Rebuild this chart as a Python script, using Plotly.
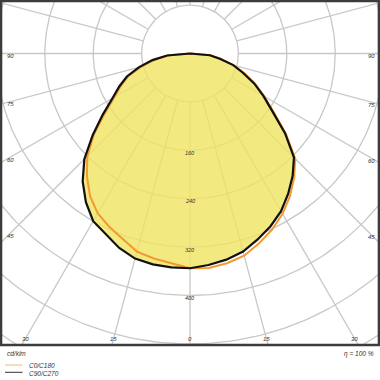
import numpy as np
import plotly.graph_objects as go

# ---------------- data (cd/klm) ----------------
gamma = [0, 5, 10, 15, 20, 25, 30, 35, 40, 45, 50, 55, 60, 65, 70, 75, 80, 85, 90]
c0    = [355, 356, 352, 346, 334, 321, 306, 288, 268, 246, 207, 169, 142, 119, 96, 75, 52, 34, 0]
c180  = [355, 348, 344, 339, 326, 316, 305, 288, 265, 240, 207, 172, 144, 126, 108, 83, 60, 35, 0]
c90   = [355, 351, 346, 339, 327, 315, 301, 283, 264, 243, 205, 166, 140, 117, 93, 74, 50, 33, 0]
c270  = [355, 355, 354, 351, 342, 330, 320, 300, 276, 247, 210, 176, 148, 129, 111, 87, 63, 38, 0]

ring_values = [80, 160, 240, 320, 400, 480, 560, 640]
ring_labels = [160, 240, 320, 400]
spoke_angles = list(range(0, 360, 15))
side_angle_labels = [90, 75, 60, 45]
bottom_angle_labels = [0, 15, 30]
legend_names = ["C0/C180", "C90/C270"]
unit_text = "cd/klm"
eta_text = "η = 100 %"

# ---------------- geometry ----------------
W, H = 380, 380
ML, MR, MT, MB = 1, 1, 1, 35
CX, CY = 190.0, 53.5          # pixel position of the luminaire centre
S = 0.605                     # pixels per cd/klm
PW, PH = W - ML - MR, H - MT - MB

x_rng = [(ML - CX) / S, (W - MR - CX) / S]
y_rng = [-(MT + PH - CY) / S, (CY - MT) / S]

def px_to_x(px):
    return (px - CX) / S

def py_to_y(py):
    return -(py - CY) / S

def paper_x(px):
    return (px - ML) / PW

def paper_y(py):
    return (MT + PH - py) / PH

g = np.radians(np.array(gamma, dtype=float))

def curve(left, right):
    l = np.array(left, float)
    r = np.array(right, float)
    xl = -l * np.sin(g)
    yl = -l * np.cos(g)
    xr = r * np.sin(g)
    yr = -r * np.cos(g)
    xs = np.concatenate([xl[::-1], xr[1:]])
    ys = np.concatenate([yl[::-1], yr[1:]])
    return xs, ys

fig = go.Figure()

GRID = "#c8c8c8"
# rings
t = np.linspace(0, 2 * np.pi, 361)
for rv in ring_values:
    fig.add_trace(go.Scatter(x=rv * np.sin(t), y=rv * np.cos(t), mode="lines",
                             line=dict(color=GRID, width=1.3), hoverinfo="skip",
                             showlegend=False))
# spokes
for a in spoke_angles:
    ar = np.radians(a)
    rr = np.array([ring_values[0], 800.0])
    fig.add_trace(go.Scatter(x=rr * np.sin(ar), y=-rr * np.cos(ar), mode="lines",
                             line=dict(color=GRID, width=1.3), hoverinfo="skip",
                             showlegend=False))

# yellow fill (C90/C270)
fx, fy = curve(c270, c90)
fig.add_trace(go.Scatter(x=fx, y=fy, mode="lines", fill="toself",
                         fillcolor="rgba(239,229,96,0.8)",
                         line=dict(color="rgba(0,0,0,0)", width=0),
                         hoverinfo="skip", showlegend=False))

ox, oy = curve(c180, c0)
fig.add_trace(go.Scatter(x=ox, y=oy, mode="lines", name=legend_names[0],
                         line=dict(color="#f39a2e", width=2), showlegend=False))
bx, by = curve(c270, c90)
fig.add_trace(go.Scatter(x=bx, y=by, mode="lines", name=legend_names[1],
                         line=dict(color="#111111", width=2.2), showlegend=False))

TXT = "#333333"
FONT = "Liberation Sans, Arial, sans-serif"
ann = []
# radial value labels
for rv in ring_labels:
    ann.append(dict(x=0, y=-rv - 4, xref="x", yref="y", text=f"<i>{rv}</i>",
                    showarrow=False, font=dict(size=5.5, color=TXT, family=FONT),
                    xanchor="center", yanchor="middle"))
# side angle labels
for a in side_angle_labels:
    ar = np.radians(a)
    for side, pxx in ((-1, 10.0), (1, 371.0)):
        xd = px_to_x(pxx)
        yd = -abs(xd) / np.tan(ar) if a != 90 else 0.0
        ann.append(dict(x=xd, y=yd - 2.5 / S, xref="x", yref="y", text=f"<i>{a}</i>",
                        showarrow=False, font=dict(size=6, color=TXT, family=FONT),
                        xanchor="center", yanchor="middle"))
# bottom angle labels
for a in bottom_angle_labels:
    ar = np.radians(a)
    yd = py_to_y(338.5)
    for side in (-1, 1):
        if a == 0 and side == 1:
            continue
        xd = side * abs(yd) * np.tan(ar)
        ann.append(dict(x=xd, y=yd, xref="x", yref="y", text=f"<i>{a}</i>",
                        showarrow=False, font=dict(size=6, color=TXT, family=FONT),
                        xanchor="center", yanchor="middle"))

# footer texts
ann.append(dict(x=paper_x(5), y=paper_y(353.5), xref="paper", yref="paper",
                text=f"<i>{unit_text}</i>", showarrow=False,
                font=dict(size=6.5, color=TXT, family=FONT), xanchor="left", yanchor="middle"))
ann.append(dict(x=paper_x(376), y=paper_y(354), xref="paper", yref="paper",
                text=f"<i>{eta_text}</i>", showarrow=False,
                font=dict(size=6.5, color=TXT, family=FONT), xanchor="right", yanchor="middle"))
for i, nm in enumerate(legend_names):
    py = 365.5 + 7.5 * i
    ann.append(dict(x=paper_x(27), y=paper_y(py), xref="paper", yref="paper",
                    text=f"<i>{nm}</i>", showarrow=False,
                    font=dict(size=6.5, color=TXT, family=FONT),
                    xanchor="left", yanchor="middle"))

shapes = [dict(type="rect", xref="paper", yref="paper", x0=0, x1=1, y0=0, y1=1,
               line=dict(color="#3c3c3c", width=2.6), fillcolor="rgba(0,0,0,0)",
               layer="above")]
for i, col in enumerate(["#f6b878", "#333333"]):
    py = 365 + 7.3 * i
    shapes.append(dict(type="line", xref="paper", yref="paper",
                       x0=paper_x(5), x1=paper_x(22.5), y0=paper_y(py), y1=paper_y(py),
                       line=dict(color=col, width=1)))

fig.update_layout(
    width=W, height=H,
    margin=dict(l=ML, r=MR, t=MT, b=MB, pad=0),
    paper_bgcolor="white", plot_bgcolor="white",
    xaxis=dict(range=x_rng, visible=False, fixedrange=True),
    yaxis=dict(range=y_rng, visible=False, fixedrange=True),
    annotations=ann, shapes=shapes, showlegend=False,
)

fig.write_html("out.html")
